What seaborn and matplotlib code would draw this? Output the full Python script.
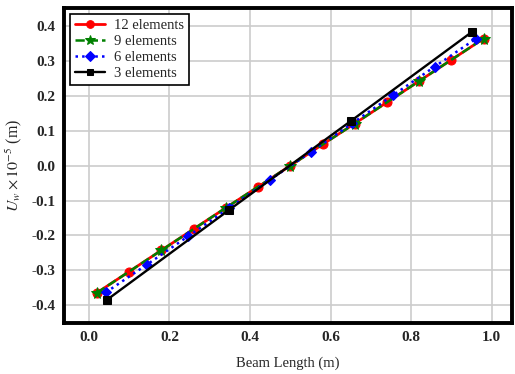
import numpy as np
import pandas as pd
import matplotlib
matplotlib.use("Agg")
import matplotlib.pyplot as plt
import seaborn as sns
from matplotlib.ticker import MultipleLocator

# nodal positions (m) and deflections (x 1e-5 m)
x_12 = [0.02, 0.10, 0.18, 0.26, 0.34, 0.42, 0.50, 0.58, 0.66, 0.74, 0.82, 0.90, 0.98]
u_12 = [-0.365, -0.304, -0.243, -0.182, -0.121, -0.061, 0.0, 0.061, 0.121, 0.182, 0.243, 0.304, 0.365]

x_9 = [0.02, 0.18, 0.34, 0.50, 0.66, 0.82, 0.98]
u_9 = [-0.365, -0.243, -0.121, 0.0, 0.121, 0.243, 0.365]

x_6 = [0.042, 0.144, 0.246, 0.348, 0.450, 0.552, 0.654, 0.756, 0.858, 0.960]
u_6 = [-0.364, -0.284, -0.203, -0.122, -0.040, 0.040, 0.122, 0.203, 0.284, 0.364]

x_3 = [0.045, 0.347, 0.650, 0.952]
u_3 = [-0.385, -0.128, 0.128, 0.385]

sns.set_style("whitegrid")
plt.rcParams["font.family"] = ["Liberation Serif", "DejaVu Serif"]
plt.rcParams["mathtext.fontset"] = "stix"
plt.rcParams["axes.unicode_minus"] = False

fig = plt.figure(figsize=(5.15, 3.74), dpi=100)
ax = fig.add_axes([0.124, 0.136, 0.870, 0.843])

sns.lineplot(x=x_12, y=u_12, color="red", linestyle="-", linewidth=2.0,
             marker="o", markersize=6.5, markeredgecolor="red", label="12 elements", ax=ax, sort=False)
sns.lineplot(x=x_9, y=u_9, color="green", linestyle="--", linewidth=1.8,
             marker="*", markersize=8.5, markeredgecolor="green", label="9 elements", ax=ax, sort=False)
sns.lineplot(x=x_6, y=u_6, color="blue", linestyle=":", linewidth=1.8,
             marker="D", markersize=5.5, markeredgecolor="blue", label="6 elements", ax=ax, sort=False)
sns.lineplot(x=x_3, y=u_3, color="black", linestyle="-", linewidth=1.7,
             marker="s", markersize=5.5, markeredgecolor="black", label="3 elements", ax=ax, sort=False)

ax.set_xlim(-0.062, 1.05)
ax.set_ylim(-0.452, 0.453)
ax.xaxis.set_major_locator(MultipleLocator(0.2))
ax.yaxis.set_major_locator(MultipleLocator(0.1))
ax.xaxis.set_minor_locator(MultipleLocator(0.1))
ax.yaxis.set_minor_locator(MultipleLocator(0.05))
ax.grid(True, which="major", color="#cccccc", linewidth=1.2)
ax.tick_params(which="both", direction="in", color="#333333", labelsize=11, pad=6)
ax.tick_params(which="major", length=3)
ax.tick_params(which="minor", length=2)
for lab in ax.get_xticklabels() + ax.get_yticklabels():
    lab.set_fontweight("bold")
for sp in ax.spines.values():
    sp.set_color("black")
    sp.set_linewidth(2.8)

ax.set_xlabel("Beam Length (m)", fontsize=10.5, labelpad=9)
ax.set_ylabel(r"$U_w \times 10^{-5}$ (m)", fontsize=11.5, labelpad=5)

leg = ax.legend(loc="upper left", fontsize=10.5, frameon=True, fancybox=False,
                borderaxespad=0.45, handlelength=2.1, labelspacing=0.2,
                borderpad=0.3, handletextpad=0.6, markerscale=0.85)
leg.get_frame().set_edgecolor("black")
leg.get_frame().set_linewidth(1.2)
leg.get_frame().set_alpha(1)

fig.savefig("out.png", dpi=100)
